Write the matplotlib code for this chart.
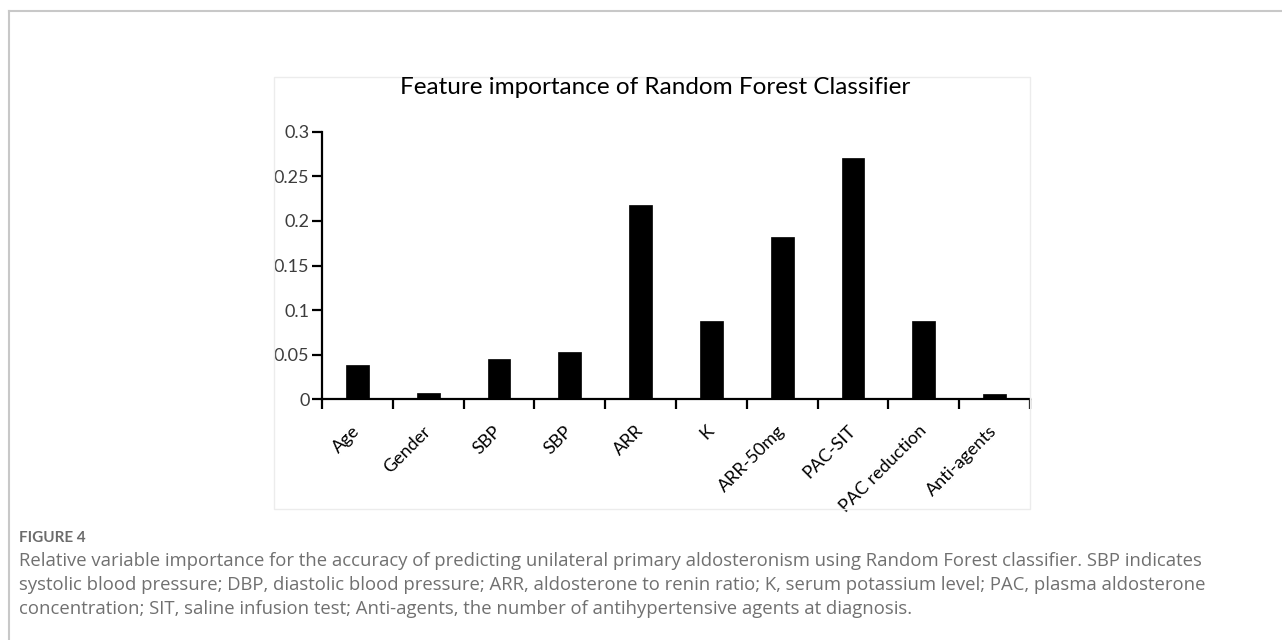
import matplotlib
matplotlib.use("Agg")
import matplotlib.pyplot as plt
from matplotlib.patches import Rectangle
from matplotlib.lines import Line2D

categories = ["Age", "Gender", "SBP", "SBP", "ARR", "K", "ARR-50mg", "PAC-SIT",
              "PAC reduction", "Anti-agents"]
importance = [0.039, 0.0067, 0.045, 0.053, 0.218, 0.088, 0.182, 0.270, 0.088, 0.0056]
yticks = [0, 0.05, 0.1, 0.15, 0.2, 0.25, 0.3]
ytick_labels = ["0", "0.05", "0.1", "0.15", "0.2", "0.25", "0.3"]
title = "Feature importance of Random Forest Classifier"
fig_label = "FIGURE 4"
caption_lines = [
    "Relative variable importance for the accuracy of predicting unilateral primary aldosteronism using Random Forest classifier. SBP indicates",
    "systolic blood pressure; DBP, diastolic blood pressure; ARR, aldosterone to renin ratio; K, serum potassium level; PAC, plasma aldosterone",
    "concentration; SIT, saline infusion test; Anti-agents, the number of antihypertensive agents at diagnosis.",
]

W, H = 1282, 640
fig = plt.figure(figsize=(W / 100, H / 100), dpi=100)
fig.patch.set_facecolor("white")

def fx(px):
    return px / W

def fy(py):
    return 1 - py / H

# outer frame (left and top visible)
fig.add_artist(Line2D([fx(9), fx(9)], [fy(11), 0], color="#c8c8c8", lw=1.5, transform=fig.transFigure))
fig.add_artist(Line2D([fx(9), 1], [fy(11), fy(11)], color="#c8c8c8", lw=1.5, transform=fig.transFigure))

# inner chart box
fig.add_artist(Rectangle((fx(274), fy(509)), fx(1030) - fx(274), fy(77) - fy(509),
                         fill=False, edgecolor="#ececec", lw=1, transform=fig.transFigure))

ax = fig.add_axes([fx(322), fy(399.3), fx(1030) - fx(322), fy(131.7) - fy(399.3)])
ax.set_facecolor("none")
xpos = [i + 0.5 for i in range(len(categories))]
ax.bar(xpos, importance, width=0.32, color="black", edgecolor="black", linewidth=0.5)
ax.set_xlim(0, len(categories))
ax.set_ylim(0, 0.3)
for s in ["top", "right"]:
    ax.spines[s].set_visible(False)
for s in ["left", "bottom"]:
    ax.spines[s].set_linewidth(1.6)
    ax.spines[s].set_color("black")

ax.set_yticks(yticks)
ax.set_yticklabels(ytick_labels, fontsize=13, family="Lato", color="#3c3c3c")
ax.tick_params(axis="y", direction="out", length=7, width=1.6, pad=2)

ax.set_xticks(range(len(categories) + 1))
ax.set_xticklabels([])
ax.tick_params(axis="x", which="major", direction="out", length=7, width=1.6)
ax.set_xticks(xpos, minor=True)
ax.set_xticklabels(categories, minor=True, rotation=45, ha="right", va="center",
                   rotation_mode="anchor", fontsize=13, family="Lato", color="black")
ax.tick_params(axis="x", which="minor", length=0, pad=21)

fig.text(fx(655), fy(87), title, ha="center", va="center", fontsize=17.5, family="Lato", color="black")

fig.text(fx(19), fy(538), fig_label, ha="left", va="center", fontsize=11, family="Lato",
         fontweight="bold", color="#6b6b6b")
for i, line in enumerate(caption_lines):
    fig.text(fx(19), fy(561 + 24 * i), line, ha="left", va="center", fontsize=13.3,
             family="Open Sans", color="#707070")

fig.savefig("out.png", dpi=100, facecolor="white")
